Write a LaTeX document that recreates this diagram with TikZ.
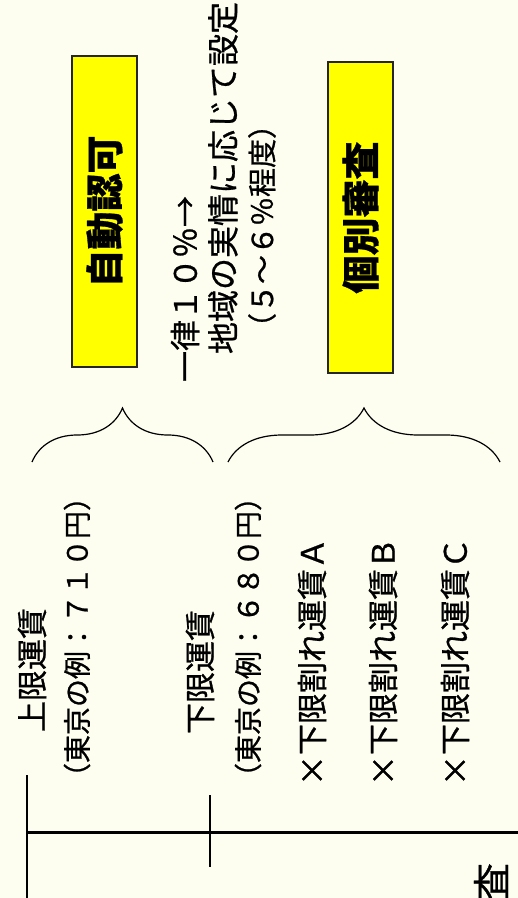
\documentclass[tikz,border=0pt]{standalone}
\usepackage{fontspec}
\setmainfont[FakeBold=0.8]{Noto Sans CJK JP}
\usetikzlibrary{decorations.pathreplacing}
\definecolor{paper}{RGB}{253,253,240}
\definecolor{boxyellow}{RGB}{255,255,0}
\begin{document}
\begin{tikzpicture}[x=0.5pt,y=-0.5pt,
    lbl/.style={rotate=90,inner sep=0pt,font=\fontsize{15.5}{16}\selectfont},
    small/.style={lbl,font=\fontsize{14}{15}\selectfont},
    judge/.style={rotate=90,draw=black!85,line width=0.7pt,fill=boxyellow,
        minimum width=155.5pt,minimum height=32.5pt,inner sep=0pt,
        font=\fontsize{19}{20}\selectfont\bfseries},
    bracket/.style={line width=0.6pt,decorate,decoration={brace,amplitude=27pt}}]
    \path[use as bounding box,fill=paper] (0,0) rectangle (518,898);

    \node[judge] (auto) at (104.5,211.5) {自動認可};
    \node[judge] (review) at (360.5,217.5) {個別審査};

    \node[lbl] (flat) at (185,289) {一律１０％→};
    \node[lbl,font=\fontsize{16}{17}\selectfont] (local) at (223,178) {地域の実情に応じて設定};
    \node[small,font=\fontsize{14.5}{15}\selectfont] (range) at (262,226) {（５～６％程度）};

    \coordinate (b1L) at (32,462);
    \coordinate (b1R) at (213,462);
    \coordinate (b2L) at (228,462);
    \coordinate (b2R) at (500,462);
    \draw[bracket] (b1L) -- (b1R);
    \draw[bracket] (b2L) -- (b2R);

    \node[lbl] (upper) at (32,670) {上限運賃};
    \node[small] (upperex) at (77,637) {（東京の例：７１０円）};
    \node[lbl] (lower) at (200,672) {下限運賃};
    \node[small] (lowerex) at (248,637) {（東京の例：６８０円）};
    \node[lbl] (belowA) at (312,662) {×下限割れ運賃Ａ};
    \node[lbl] (belowB) at (383,662) {×下限割れ運賃Ｂ};
    \node[lbl] (belowC) at (455,662) {×下限割れ運賃Ｃ};

    \coordinate (axisL) at (27,832);
    \coordinate (axisR) at (518,832);
    \coordinate (tickAtop) at (27,775);
    \coordinate (tickAbot) at (27,898);
    \coordinate (tickBtop) at (210,795);
    \coordinate (tickBbot) at (210,867);
    \draw[line width=1.5pt] (axisL) -- (axisR);
    \draw[line width=0.75pt] (tickAtop) -- (tickAbot);
    \draw[line width=0.75pt] (tickBtop) -- (tickBbot);

    \node[lbl,font=\fontsize{19}{20}\selectfont] (cut) at (491,882) {査};
\end{tikzpicture}
\end{document}
